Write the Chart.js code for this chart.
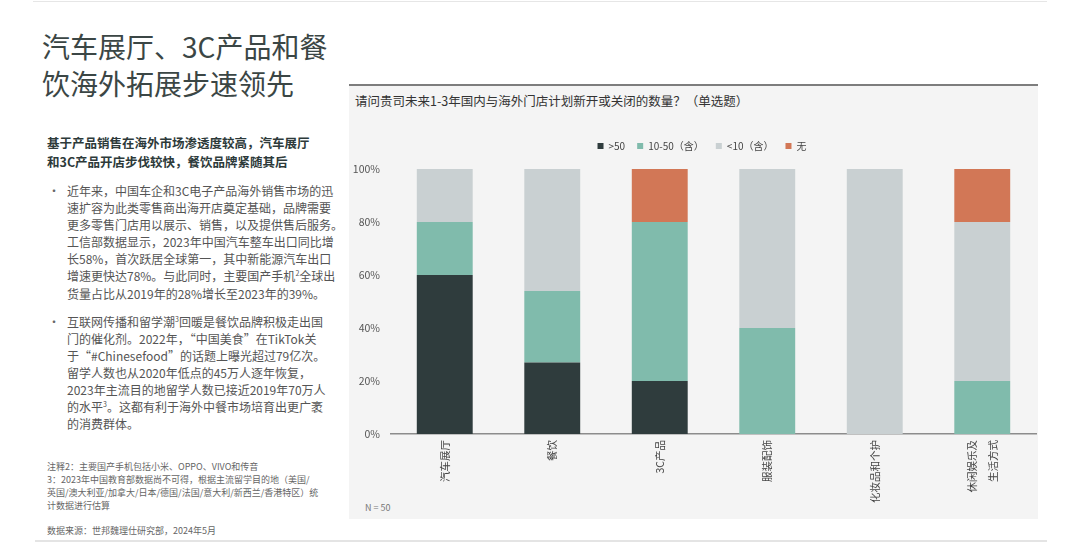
<!DOCTYPE html>
<html><head><meta charset="utf-8">
<script src="https://cdn.jsdelivr.net/npm/chart.js@4"></script>
<style>
html,body{margin:0;padding:0;}
body{width:1080px;height:543px;background:#fff;position:relative;overflow:hidden;font-family:'Noto Sans CJK SC','Noto Sans',sans-serif;}
.abs{position:absolute;white-space:nowrap;}
#topline{left:33px;top:1px;width:1014px;height:1px;background:#e6e6e6;}
#botline{left:35px;top:540px;width:1012px;height:2px;background:#e4e4e4;}
#title{left:42px;top:28px;font-size:28px;line-height:37px;color:#3b4645;font-weight:400;}
#sub{left:47px;top:133px;font-size:12.5px;line-height:19px;color:#2d3a3a;font-weight:700;}
.bul{left:67px;font-size:12px;line-height:17.1px;color:#555;}
.dot{left:48px;font-size:12px;line-height:17.1px;color:#666;}
#b1{top:182px;} #d1{top:182px;}
#b2{top:312.5px;} #d2{top:312.5px;}
sup{font-size:7px;line-height:0;vertical-align:5px;}
#notes{left:47px;top:459.5px;font-size:9px;line-height:13px;color:#666;}
#src{left:47px;top:523.5px;font-size:9px;line-height:13px;color:#666;}
#panel{left:349px;top:84px;width:689px;height:435px;background:#f4f4f4;border-top:2px solid #7d7d7d;box-sizing:border-box;}
#ctitle{left:355px;top:92px;font-size:12.5px;line-height:18px;color:#333;}
#nlabel{left:365px;top:501px;font-size:9px;line-height:14px;color:#777;}
#wrap{position:absolute;left:349px;top:84px;width:689px;height:435px;}
</style></head>
<body>
<div class="abs" id="topline"></div>
<div class="abs" id="botline"></div>
<div class="abs" id="title">汽车展厅、3C产品和餐<br>饮海外拓展步速领先</div>
<div class="abs" id="sub">基于产品销售在海外市场渗透度较高，汽车展厅<br>和3C产品开店步伐较快，餐饮品牌紧随其后</div>
<div class="abs dot" id="d1">•</div>
<div class="abs bul" id="b1">近年来，中国车企和3C电子产品海外销售市场的迅<br>速扩容为此类零售商出海开店奠定基础，品牌需要<br>更多零售门店用以展示、销售，以及提供售后服务。<br>工信部数据显示，2023年中国汽车整车出口同比增<br>长58%，首次跃居全球第一，其中新能源汽车出口<br>增速更快达78%。与此同时，主要国产手机<sup>2</sup>全球出<br>货量占比从2019年的28%增长至2023年的39%。</div>
<div class="abs dot" id="d2">•</div>
<div class="abs bul" id="b2">互联网传播和留学潮<sup>3</sup>回暖是餐饮品牌积极走出国<br>门的催化剂。2022年，“中国美食”在TikTok关<br>于“#Chinesefood”的话题上曝光超过79亿次。<br>留学人数也从2020年低点的45万人逐年恢复，<br>2023年主流目的地留学人数已接近2019年70万人<br>的水平<sup>3</sup>。这都有利于海外中餐市场培育出更广袤<br>的消费群体。</div>
<div class="abs" id="notes">注释2：主要国产手机包括小米、OPPO、VIVO和传音<br>3：2023年中国教育部数据尚不可得，根据主流留学目的地（美国/<br>英国/澳大利亚/加拿大/日本/德国/法国/意大利/新西兰/香港特区）统<br>计数据进行估算</div>
<div class="abs" id="src">数据来源：世邦魏理仕研究部，2024年5月</div>
<div class="abs" id="panel"></div>
<div class="abs" id="ctitle">请问贵司未来1-3年国内与海外门店计划新开或关闭的数量？（单选题）</div>
<div class="abs" id="nlabel">N = 50</div>
<div id="wrap"><canvas id="c" width="689" height="435"></canvas></div>
<script>
const categories = ['汽车展厅', '餐饮', '3C产品', '服装配饰', '化妆品和个护', ['休闲娱乐及', '生活方式']];
const seriesNames = ['>50', '10-50（含）', '<10（含）', '无'];
const over50 = [60, 27, 20, 0, 0, 0];
const from10to50 = [20, 27, 60, 40, 0, 20];
const under10 = [20, 46, 0, 60, 100, 60];
const noneVals = [0, 0, 20, 0, 0, 20];
const yTicks = [0, 20, 40, 60, 80, 100];
const colors = ['#2f3c3d', '#80bbac', '#c9d0d2', '#d27756'];

const FONT = "'Noto Sans CJK SC','Noto Sans',sans-serif";

const layoutFix = {
  id: 'layoutFix',
  afterInit(chart) {
    const lg = chart.legend;
    if (lg && !lg._fixed) {
      const fit = lg.fit.bind(lg);
      lg.fit = function () { fit(); this.height = 40; };
      lg._fixed = true;
    }
  },
  afterLayout(chart) {
    if (chart.legend) { chart.legend.left += 19; }
    const sx = chart.scales.x;
    if (sx && !sx._patched) {
      const orig = sx._computeLabelItems.bind(sx);
      sx._computeLabelItems = function (ca) {
        const items = orig(ca);
        items.forEach(it => {
          if (Array.isArray(it.label) && it.label.length > 1) {
            it.options.translation[0] -= (it.label.length - 1) * it.font.lineHeight / 2;
          }
        });
        return items;
      };
      sx._patched = true;
      sx._labelItems = null;
    }
  }
};

const dataSets = [over50, from10to50, under10, noneVals].map((d, i) => ({
  label: seriesNames[i],
  data: d,
  backgroundColor: colors[i],
  borderWidth: 0,
  categoryPercentage: 1,
  barPercentage: 0.52
}));

new Chart(document.getElementById('c'), {
  type: 'bar',
  data: { labels: categories, datasets: dataSets },
  plugins: [layoutFix],
  options: {
    responsive: false,
    animation: false,
    layout: { padding: { left: 0, right: 2, top: 45, bottom: 0 } },
    plugins: {
      legend: {
        position: 'top', align: 'center',
        labels: { boxWidth: 6, boxHeight: 6, padding: 12, color: '#444', font: { size: 10, family: FONT } }
      },
      tooltip: { enabled: false }
    },
    scales: {
      x: {
        stacked: true,
        grid: { display: false, drawTicks: false },
        border: { display: true, color: '#8c8c8c', width: 1.5 },
        ticks: { maxRotation: 90, minRotation: 90, autoSkip: false, padding: 6, color: '#444', font: { size: 10.5, family: FONT, lineHeight: 2 } },
        afterFit(s) { s.height = 85; }
      },
      y: {
        stacked: true,
        min: yTicks[0],
        max: yTicks[yTicks.length - 1],
        grid: { display: false, drawTicks: false },
        border: { display: false },
        ticks: { stepSize: yTicks[1] - yTicks[0], padding: 11, color: '#555', font: { size: 10.5, family: FONT }, callback: (v) => v + '%' },
        afterFit(s) { s.width = 42; }
      }
    }
  }
});
</script>
</body></html>
